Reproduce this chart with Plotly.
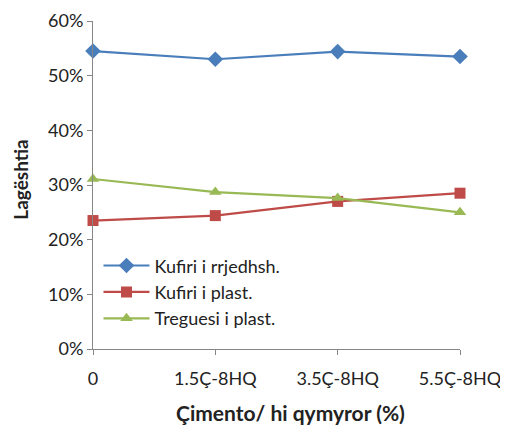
import plotly.graph_objects as go

categories = ["0", "1.5Ç-8HQ", "3.5Ç-8HQ", "5.5Ç-8HQ"]
kufiri_rrjedhsh = [0.545, 0.530, 0.544, 0.535]
kufiri_plast = [0.235, 0.244, 0.270, 0.285]
treguesi_plast = [0.311, 0.287, 0.276, 0.250]
y_ticks = [0, 0.1, 0.2, 0.3, 0.4, 0.5, 0.6]

series = [
    ("Kufiri i rrjedhsh.", kufiri_rrjedhsh, "#4A7EBB", "diamond", 12),
    ("Kufiri i plast.", kufiri_plast, "#BE4B48", "square", 11),
    ("Treguesi i plast.", treguesi_plast, "#98B954", "triangle-up", 11),
]

FONT = "Lato, Open Sans, sans-serif"

fig = go.Figure()
for i, (name, vals, col, sym, sz) in enumerate(series):
    fig.add_trace(go.Scatter(
        x=categories, y=vals, name=name, mode="lines+markers",
        line=dict(color=col, width=2.2),
        marker=dict(symbol=sym, size=sz, color=col),
        legendgroup=f"g{i}",
        cliponaxis=False,
    ))

# page body has an 8px margin, so the figure is 8px smaller and shifted
fig.update_layout(
    width=500, height=419,
    margin=dict(l=85, r=48, t=13, b=78),
    paper_bgcolor="white", plot_bgcolor="white",
    font=dict(family=FONT, color="#222222"),
    showlegend=True,
    legend=dict(
        x=0.015, y=0.31, xanchor="left", yanchor="top",
        font=dict(size=18), bgcolor="rgba(0,0,0,0)",
        tracegroupgap=0, traceorder="grouped", itemwidth=46,
    ),
    annotations=[
        dict(text="<b>Çimento/ hi qymyror (%)</b>", xref="paper", yref="paper",
             x=0.538, y=-0.195, xanchor="center", yanchor="middle",
             showarrow=False, font=dict(size=21, family=FONT)),
        dict(text="<b>Lagështia</b>", xref="paper", yref="paper",
             x=-0.2, y=0.515, xanchor="center", yanchor="middle", textangle=-90,
             showarrow=False, font=dict(size=19, family=FONT), borderpad=0),
    ],
)
fig.update_xaxes(
    type="category", range=[0, 3], automargin=False,
    showline=True, linecolor="#868686", linewidth=1,
    ticks="outside", ticklen=5, tickcolor="#868686",
    showgrid=False, zeroline=False,
    tickfont=dict(size=18), ticklabelstandoff=8,
)
fig.update_yaxes(
    range=[0, 0.6], tickvals=y_ticks, tickformat=".0%", ticksuffix="\u2002",
    automargin=False,
    showline=True, linecolor="#868686", linewidth=1,
    ticks="outside", ticklen=5, tickcolor="#868686",
    showgrid=False, zeroline=False,
    tickfont=dict(size=18),
)

fig.write_html("out.html")
